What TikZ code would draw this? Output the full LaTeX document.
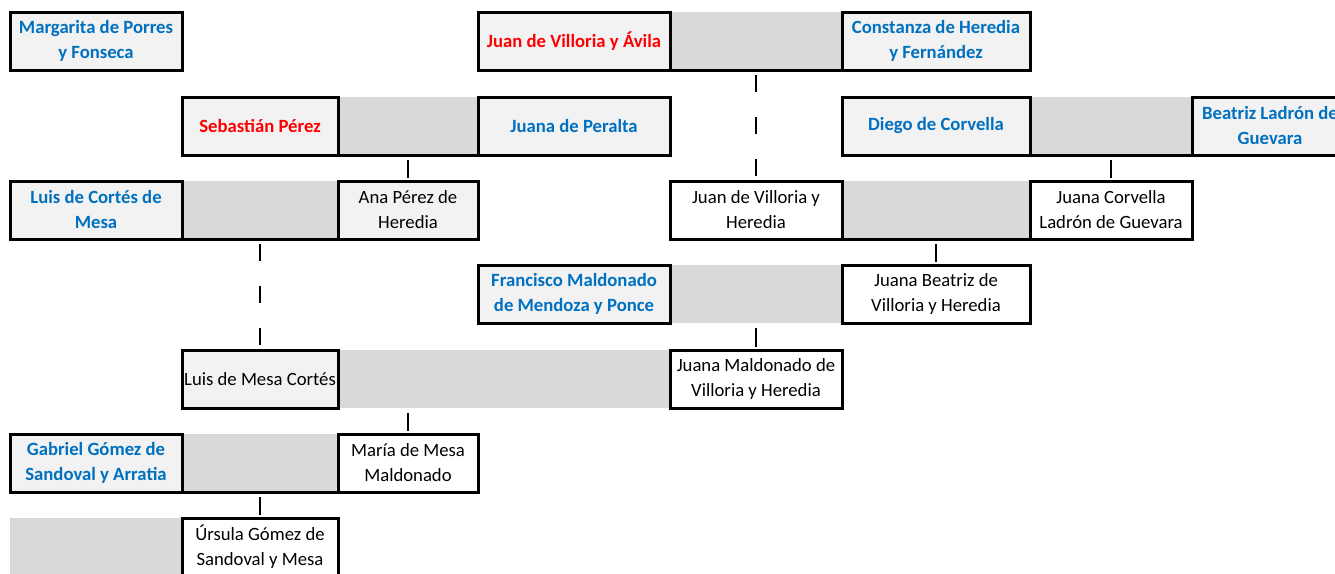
\documentclass[tikz,border=0pt]{standalone}
\usepackage{fontspec}
\setmainfont{Carlito}
\usepackage{xcolor}
\definecolor{nameblue}{HTML}{0070C0}
\definecolor{namered}{HTML}{FF0000}
\definecolor{lightcell}{HTML}{F2F2F2}
\definecolor{couplegray}{HTML}{D9D9D9}
\usetikzlibrary{
		calc,
		positioning
	}
\tikzset{
		cell/.style={anchor=north west, minimum height=58pt, inner sep=0pt, outer sep=0pt, align=center, font=\fontsize{18.7}{25}\selectfont},
		person/.style={cell, draw, line width=3pt, fill=lightcell},
		ancestor/.style={person, font=\fontsize{18.7}{25}\selectfont\bfseries, text=nameblue},
		founder/.style={ancestor, text=namered},
		heir/.style={person, fill=white},
		couple/.style={cell, fill=couplegray},
		rowline/.style={line width=3pt},
		link/.style={line width=2.5pt, shorten <=5pt, shorten >=3pt},
		gap/.style={link, dash pattern=on 17pt off 25pt}
	}

\begin{document}
\begin{tikzpicture}[x=1pt,y=-1pt]
          \useasboundingbox (0,0) rectangle (1335,573);

          % couples (grey cells)
          \node[couple, minimum width=172pt] (g1) at (670,12) {};
          \node[couple, minimum width=140pt] (g2a) at (338,97) {};
          \node[couple, minimum width=162pt] (g2b) at (1030,97) {};
          \node[couple, minimum width=156pt] (g3a) at (182,181) {};
          \node[couple, minimum width=188pt] (g3b) at (842,181) {};
          \node[couple, minimum width=172pt] (g4) at (670,265) {};
          \node[couple, minimum width=332pt] (g5) at (338,350) {};
          \node[couple, minimum width=156pt] (g6) at (182,434) {};
          \node[couple, minimum width=172pt] (g7) at (10,518) {};

          % row 1
          \node[ancestor, minimum width=172pt] (margarita) at (10,12) {Margarita de Porres\\y Fonseca};
          \node[founder, minimum width=192pt] (juanva) at (478,12) {Juan de Villoria y Ávila};
          \node[ancestor, minimum width=188pt] (constanza) at (842,12) {Constanza de Heredia\\y Fernández};

          % row 2
          \node[founder, minimum width=156pt] (sebastian) at (182,97) {Sebastián Pérez};
          \node[ancestor, minimum width=192pt] (peralta) at (478,97) {Juana de Peralta};
          \node[ancestor, minimum width=188pt] (diego) at (842,97) {Diego de Corvella};
          \node[ancestor, minimum width=156pt] (beatriz) at (1192,97) {Beatriz Ladrón de\\Guevara};

          % row 3
          \node[ancestor, minimum width=172pt] (cortes) at (10,181) {Luis de Cortés de\\Mesa};
          \node[heir, fill=lightcell, minimum width=140pt] (ana) at (338,181) {Ana Pérez de\\Heredia};
          \node[heir, minimum width=172pt] (juanvh) at (670,181) {Juan de Villoria y\\Heredia};
          \node[heir, minimum width=162pt] (corvella) at (1030,181) {Juana Corvella\\Ladrón de Guevara};

          % row 4
          \node[ancestor, minimum width=192pt] (francisco) at (478,265) {Francisco Maldonado\\de Mendoza y Ponce};
          \node[heir, minimum width=188pt] (beatrizvh) at (842,265) {Juana Beatriz de\\Villoria y Heredia};

          % row 5
          \node[heir, fill=lightcell, minimum width=156pt] (mesa) at (182,350) {Luis de Mesa Cortés};
          \node[heir, minimum width=172pt] (maldonado) at (670,350) {Juana Maldonado de\\Villoria y Heredia};

          % row 6
          \node[ancestor, minimum width=172pt] (gabriel) at (10,434) {Gabriel Gómez de\\Sandoval y Arratia};
          \node[heir, minimum width=140pt] (maria) at (338,434) {María de Mesa\\Maldonado};

          % row 7
          \node[heir, minimum width=156pt] (ursula) at (182,518) {Úrsula Gómez de\\Sandoval y Mesa};

          % bottom rules under the couples
          \foreach \g in {g1,g2a,g2b,g3a,g3b,g6}
            \draw[rowline] (\g.south west) -- (\g.south east);

          % descent
          \draw[gap] (g1.south) -- (juanvh.north);
          \draw[gap] (g3a.south) -- (mesa.north);
          \draw[link] (g2a.south) -- (ana.north);
          \draw[link] (g2b.south) -- (corvella.north);
          \draw[link] (g3b.south) -- (beatrizvh.north);
          \draw[link] (g4.south) -- (maldonado.north);
          \draw[link] (g5.south -| maria.north) -- (maria.north);
          \draw[link] (g6.south) -- (ursula.north);

\end{tikzpicture}
\end{document}
